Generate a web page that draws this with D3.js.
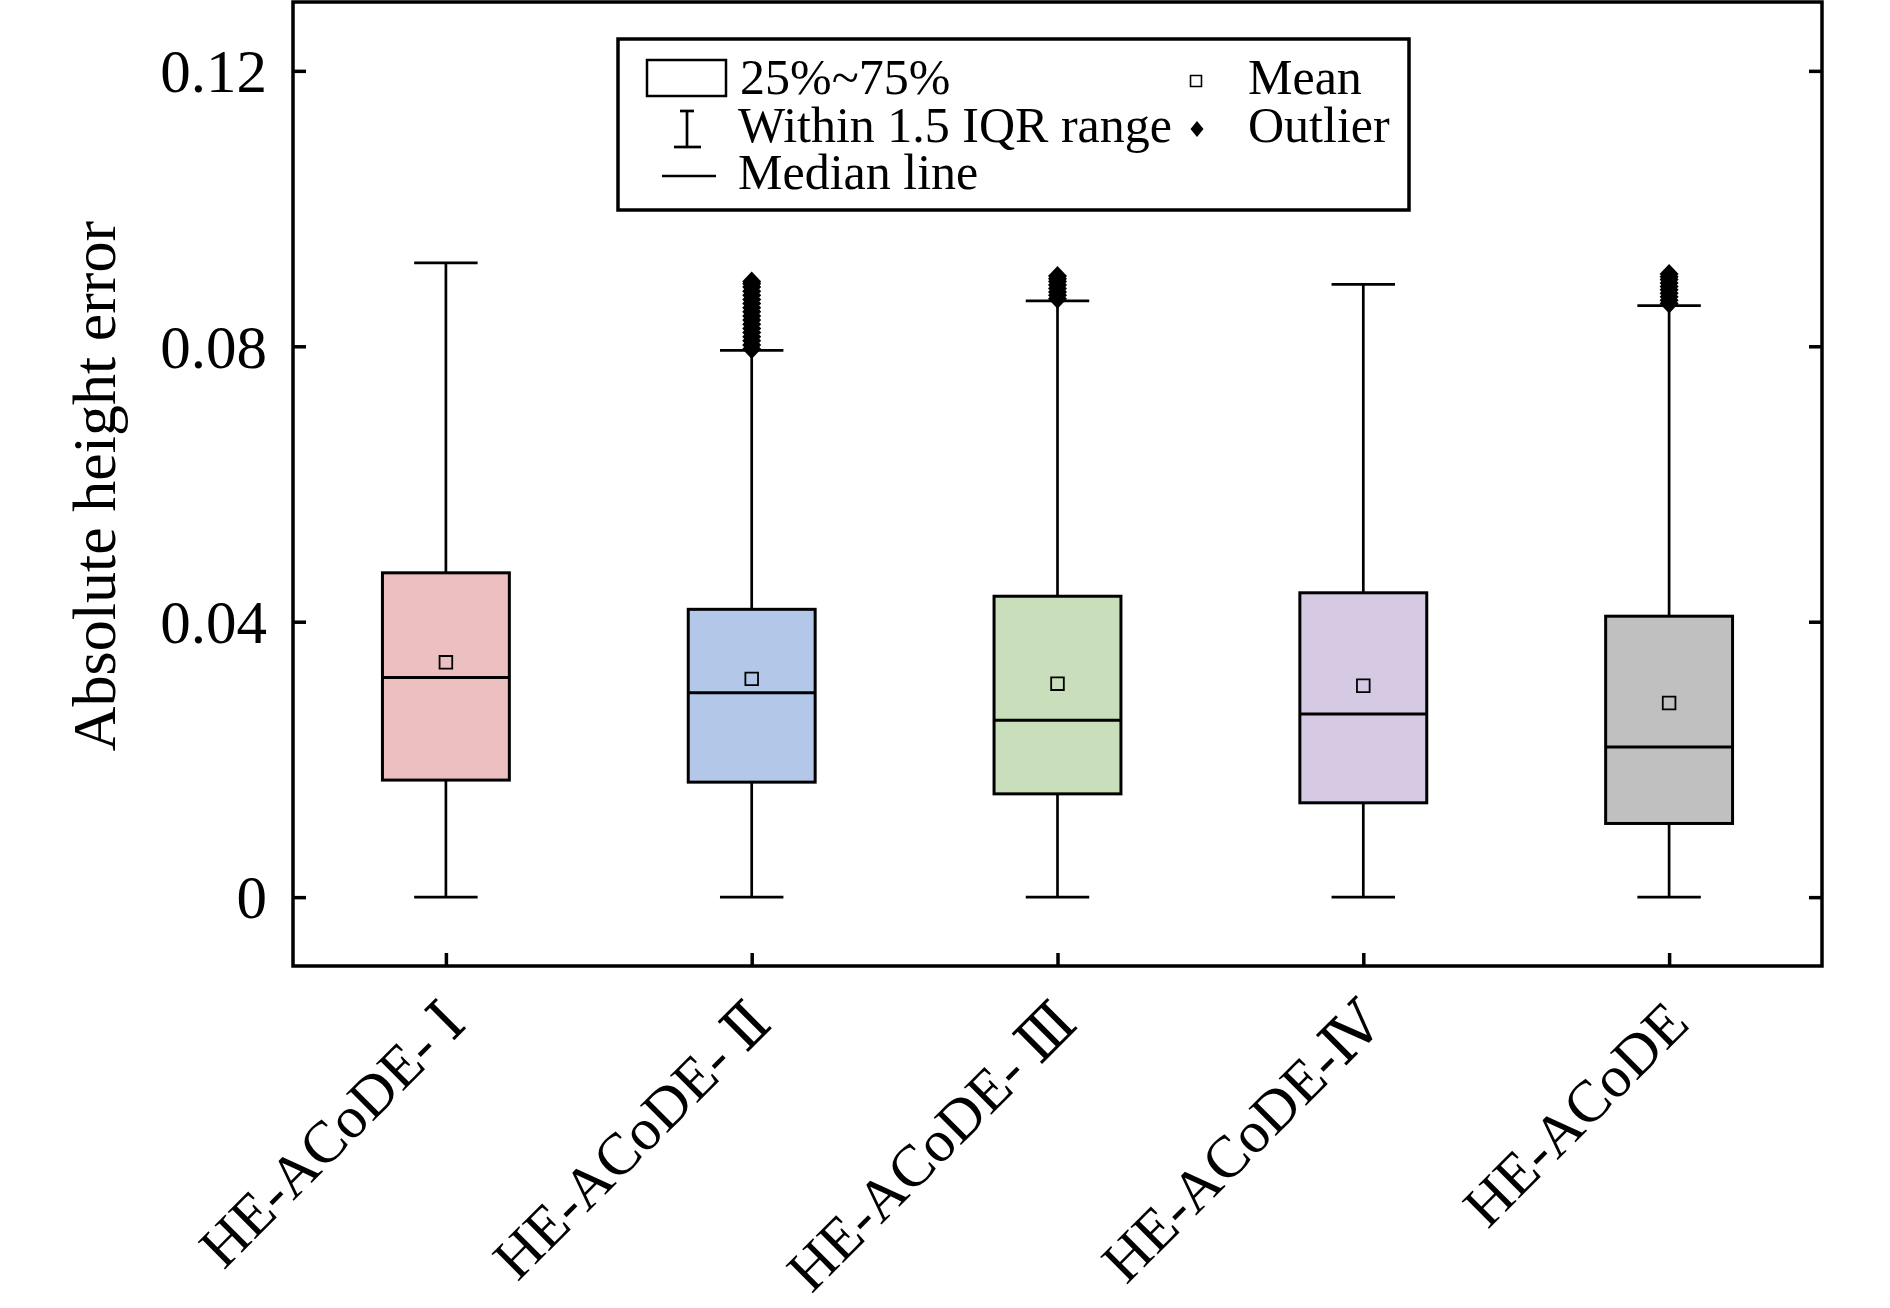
<!DOCTYPE html>
<meta charset="utf-8">
<style>
body { margin: 0; background: #fff; }
svg text { font-family: "Liberation Serif", "Times New Roman", "DejaVu Serif", serif; fill: #000; }
.box { stroke: #000; stroke-width: 3; }
.whisker { stroke: #000; stroke-width: 2.7; fill: none; }
.axis path { display: none; }
.axis line { stroke: #000; stroke-width: 3.5; }
</style>
<svg width="1890" height="1308"></svg>
<script src="https://cdn.jsdelivr.net/npm/d3@7/dist/d3.min.js"></script>
<script>
// values
var categories = ["HE-ACoDE- \u2160", "HE-ACoDE- \u2161", "HE-ACoDE- \u2162", "HE-ACoDE-\u2163", "HE-ACoDE"];
var q1 = [0.0170, 0.0167, 0.0150, 0.0137, 0.0107];
var median = [0.0319, 0.0297, 0.0257, 0.0266, 0.0218];
var q3 = [0.0471, 0.0418, 0.0437, 0.0442, 0.0408];
var mean = [0.0341, 0.0317, 0.0310, 0.0307, 0.0282];
var whiskerLow = [0, 0, 0, 0, 0];
var whiskerHigh = [0.0921, 0.0794, 0.0866, 0.0890, 0.0859];
var outliers = [
  [],
  [0.0796, 0.0802, 0.0808, 0.0814, 0.0820, 0.0826, 0.0832, 0.0838, 0.0844, 0.0850,
   0.0856, 0.0862, 0.0868, 0.0874, 0.0880, 0.0886, 0.0891, 0.0894],
  [0.0869, 0.0874, 0.0879, 0.0884, 0.0889, 0.0894, 0.0898, 0.0902],
  [],
  [0.0862, 0.0867, 0.0872, 0.0877, 0.0882, 0.0887, 0.0892, 0.0897, 0.0901, 0.0905]
];
var yTicks = [0, 0.04, 0.08, 0.12];
var yTickLabels = ["0", "0.04", "0.08", "0.12"];
var fills = ["#ecc0c0", "#b3c8e8", "#c9dfbb", "#d6c9e3", "#c0c0c0"];

var svg = d3.select("svg"),
    pLeft = 293, pRight = 1822, pTop = 2, pBottom = 966;

var x = d3.scalePoint().domain(categories).range([pLeft, pRight]).padding(0.5),
    y = d3.scaleLinear().domain([-0.01, 0.13]).range([pBottom, pTop]);

var boxW = x.step() * 0.415,
    capW = boxW / 2;

var data = categories.map(function(c, i) {
  return {cat: c, q1: q1[i], med: median[i], q3: q3[i], mean: mean[i],
          lo: whiskerLow[i], hi: whiskerHigh[i], out: outliers[i], fill: fills[i]};
});

// axes (ticks pointing inward)
svg.append("g")
  .attr("class", "axis")
  .attr("transform", "translate(" + pLeft + ",0)")
  .call(d3.axisLeft(y).tickValues(yTicks).tickSize(-13).tickPadding(26)
        .tickFormat(function(d, i) { return yTickLabels[i]; }))
  .selectAll("text")
    .style("font-size", "61px")
    .attr("dy", "0.34em");

svg.append("g")
  .attr("class", "axis")
  .attr("transform", "translate(" + pRight + ",0)")
  .call(d3.axisRight(y).tickValues(yTicks).tickSize(-13).tickFormat(""));

var xa = svg.append("g")
  .attr("class", "axis")
  .attr("transform", "translate(0," + pBottom + ")")
  .call(d3.axisBottom(x).tickSize(-13));
xa.selectAll("text")
  .attr("x", null).attr("y", null).attr("dy", null)
  .attr("text-anchor", "end")
  .attr("transform", "translate(22,60) rotate(-45)")
  .style("font-size", "59px");

// frame
svg.append("rect")
  .attr("x", pLeft).attr("y", pTop)
  .attr("width", pRight - pLeft).attr("height", pBottom - pTop)
  .attr("fill", "none").attr("stroke", "#000").attr("stroke-width", 3.5);

// y title
svg.append("text")
  .attr("transform", "translate(115," + ((y(0) + y(0.12)) / 2 + 2) + ") rotate(-90)")
  .attr("text-anchor", "middle")
  .style("font-size", "62px")
  .text("Absolute height error");

// boxes
var g = svg.selectAll(".bp").data(data).enter().append("g").attr("class", "bp");

g.append("line").attr("class", "whisker")
  .attr("x1", function(d) { return x(d.cat); }).attr("x2", function(d) { return x(d.cat); })
  .attr("y1", function(d) { return y(d.q3); }).attr("y2", function(d) { return y(d.hi); });
g.append("line").attr("class", "whisker")
  .attr("x1", function(d) { return x(d.cat); }).attr("x2", function(d) { return x(d.cat); })
  .attr("y1", function(d) { return y(d.q1); }).attr("y2", function(d) { return y(d.lo); });
g.append("line").attr("class", "whisker")
  .attr("x1", function(d) { return x(d.cat) - capW / 2; }).attr("x2", function(d) { return x(d.cat) + capW / 2; })
  .attr("y1", function(d) { return y(d.hi); }).attr("y2", function(d) { return y(d.hi); });
g.append("line").attr("class", "whisker")
  .attr("x1", function(d) { return x(d.cat) - capW / 2; }).attr("x2", function(d) { return x(d.cat) + capW / 2; })
  .attr("y1", function(d) { return y(d.lo); }).attr("y2", function(d) { return y(d.lo); });

g.append("rect").attr("class", "box")
  .attr("x", function(d) { return x(d.cat) - boxW / 2; })
  .attr("y", function(d) { return y(d.q3); })
  .attr("width", boxW)
  .attr("height", function(d) { return y(d.q1) - y(d.q3); })
  .attr("fill", function(d) { return d.fill; });

g.append("line").attr("class", "box")
  .attr("x1", function(d) { return x(d.cat) - boxW / 2; }).attr("x2", function(d) { return x(d.cat) + boxW / 2; })
  .attr("y1", function(d) { return y(d.med); }).attr("y2", function(d) { return y(d.med); });

g.append("path")
  .attr("d", d3.symbol().type(d3.symbolSquare).size(160))
  .attr("transform", function(d) { return "translate(" + x(d.cat) + "," + y(d.mean) + ")"; })
  .attr("fill", "none").attr("stroke", "#000").attr("stroke-width", 1.8);

var diamond = "M0,-10L9.5,0L0,10L-9.5,0Z";
g.selectAll(".out")
  .data(function(d) { return d.out.map(function(v) { return {cat: d.cat, v: v}; }); })
  .enter().append("path")
    .attr("class", "out")
    .attr("d", diamond)
    .attr("transform", function(d) { return "translate(" + x(d.cat) + "," + y(d.v) + ")"; })
    .attr("fill", "#000");

// legend
var lg = svg.append("g");
lg.append("rect").attr("x", 618).attr("y", 39).attr("width", 791).attr("height", 171)
  .attr("fill", "#fff").attr("stroke", "#000").attr("stroke-width", 3.5);
lg.append("rect").attr("x", 647).attr("y", 60).attr("width", 79).attr("height", 36)
  .attr("fill", "#fff").attr("stroke", "#000").attr("stroke-width", 2.5);
lg.append("line").attr("class", "whisker").attr("x1", 687).attr("x2", 687).attr("y1", 111).attr("y2", 147);
lg.append("line").attr("class", "whisker").attr("x1", 680).attr("x2", 694).attr("y1", 111).attr("y2", 111);
lg.append("line").attr("class", "whisker").attr("x1", 674).attr("x2", 701).attr("y1", 147).attr("y2", 147);
lg.append("line").attr("class", "whisker").attr("x1", 662).attr("x2", 716).attr("y1", 176).attr("y2", 176);
lg.append("path").attr("d", d3.symbol().type(d3.symbolSquare).size(120))
  .attr("transform", "translate(1196,81)")
  .attr("fill", "#fff").attr("stroke", "#000").attr("stroke-width", 1.6);
lg.append("path").attr("d", "M0,-8L6.5,0L0,8L-6.5,0Z")
  .attr("transform", "translate(1197,129)").attr("fill", "#000");

var legendItems = [
  {t: "25%~75%", x: 740, y: 94},
  {t: "Within 1.5 IQR range", x: 738, y: 142},
  {t: "Median line", x: 738, y: 189},
  {t: "Mean", x: 1248, y: 94},
  {t: "Outlier", x: 1248, y: 142}
];
lg.selectAll(".lt").data(legendItems).enter().append("text")
  .attr("class", "lt")
  .attr("x", function(d) { return d.x; })
  .attr("y", function(d) { return d.y; })
  .style("font-size", "50px")
  .text(function(d) { return d.t; });
</script>
